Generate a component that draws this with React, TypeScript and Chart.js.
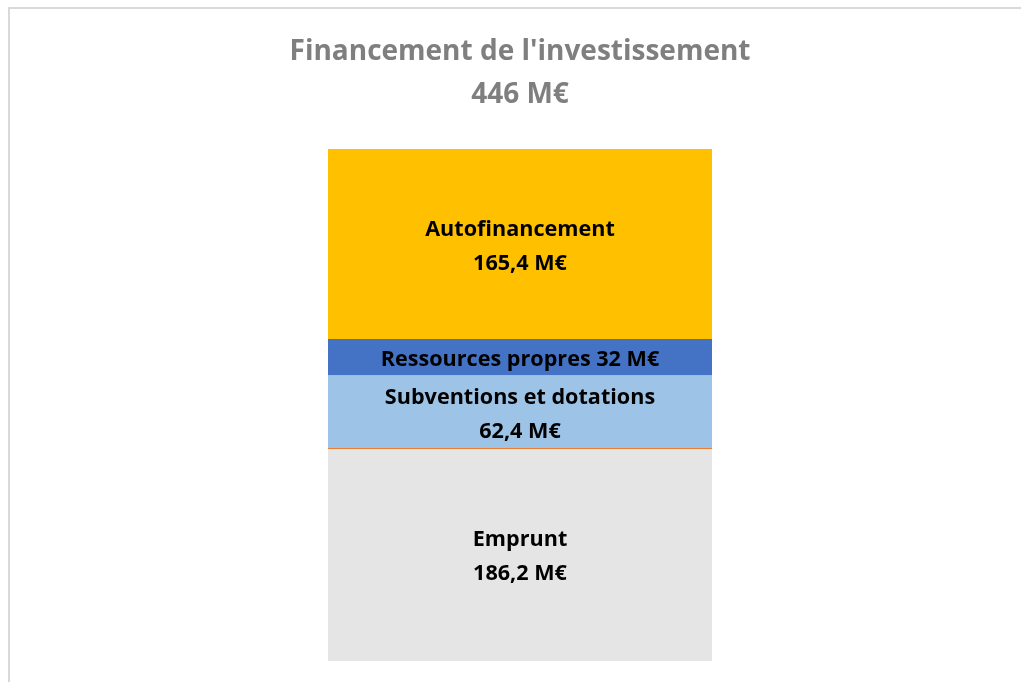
import React, { useEffect, useRef } from "react";
import { Chart, registerables } from "chart.js";

Chart.register(...registerables);

const categories = ["Financement"];
const seriesNames = ["Emprunt", "Subventions et dotations", "Ressources propres", "Autofinancement"];
const seriesValues = [186.2, 62.4, 32, 165.4];
const seriesColors = ["#E5E5E5", "#9DC3E6", "#4472C4", "#FFC000"];
const seriesMultiline = [true, true, false, true];
const titleLines = ["Financement de l'investissement", "446 M€"];

const FONT = "'Open Sans', Lato, sans-serif";

const fmt = (v: number) => v.toLocaleString("fr-FR", { maximumFractionDigits: 1 }) + " M€";

const labelPlugin = {
  id: "segmentLabels",
  afterDatasetsDraw(chart: any) {
    const ctx = chart.ctx;
    ctx.save();
    ctx.fillStyle = "#000000";
    ctx.font = `bold 21.6px ${FONT}`;
    ctx.textAlign = "center";
    ctx.textBaseline = "middle";
    chart.data.datasets.forEach((ds: any, i: number) => {
      const meta = chart.getDatasetMeta(i);
      const el = meta.data[0];
      if (!el) return;
      const { x, y, base } = el.getProps(["x", "y", "base"], true);
      const cy = (y + base) / 2;
      const lines = seriesMultiline[i]
        ? [seriesNames[i], fmt(seriesValues[i])]
        : [seriesNames[i] + " " + fmt(seriesValues[i])];
      const lh = 34;
      const startY = cy - ((lines.length - 1) * lh) / 2 + 3;
      lines.forEach((t, k) => ctx.fillText(t, x, startY + k * lh));
    });
    ctx.restore();
  },
};

export default function App() {
  const ref = useRef<HTMLCanvasElement>(null);
  useEffect(() => {
    if (!ref.current) return;
    const chart = new Chart(ref.current, {
      type: "bar",
      data: {
        labels: categories,
        datasets: seriesNames.map((n, i) => ({
          label: n,
          data: [seriesValues[i]],
          backgroundColor: seriesColors[i],
          borderColor: i === 0 ? "#ED7D31" : seriesColors[i],
          borderWidth: i === 0 ? { top: 2, left: 0, right: 0, bottom: 0 } : 0,
          borderSkipped: false,
          categoryPercentage: 1,
          barPercentage: 384 / 780,
        })),
      },
      options: {
        responsive: false,
        animation: false,
        layout: { padding: { left: 130, right: 111, top: 0, bottom: 21 } },
        plugins: {
          legend: { display: false },
          tooltip: { enabled: false },
          title: {
            display: true,
            text: titleLines,
            color: "#7F7F7F",
            font: { family: FONT, size: 28, weight: "bold", lineHeight: 43 / 28 },
            padding: { top: 31, bottom: 32 },
          },
        },
        scales: {
          x: { display: false, stacked: true },
          y: { display: false, stacked: true, min: 0, max: 446 },
        },
      },
      plugins: [labelPlugin],
    });
    return () => chart.destroy();
  }, []);
  return (
    <div style={{ position: "fixed", left: 0, top: 0, width: 1021, height: 682, background: "#fff", overflow: "hidden" }}>
      <div
        style={{
          position: "absolute",
          left: 8,
          top: 7,
          width: 1030,
          height: 700,
          borderLeft: "2px solid #D9D9D9",
          borderTop: "2px solid #D9D9D9",
        }}
      />
      <canvas ref={ref} width={1021} height={682} style={{ position: "absolute", left: 0, top: 0 }} />
    </div>
  );
}
